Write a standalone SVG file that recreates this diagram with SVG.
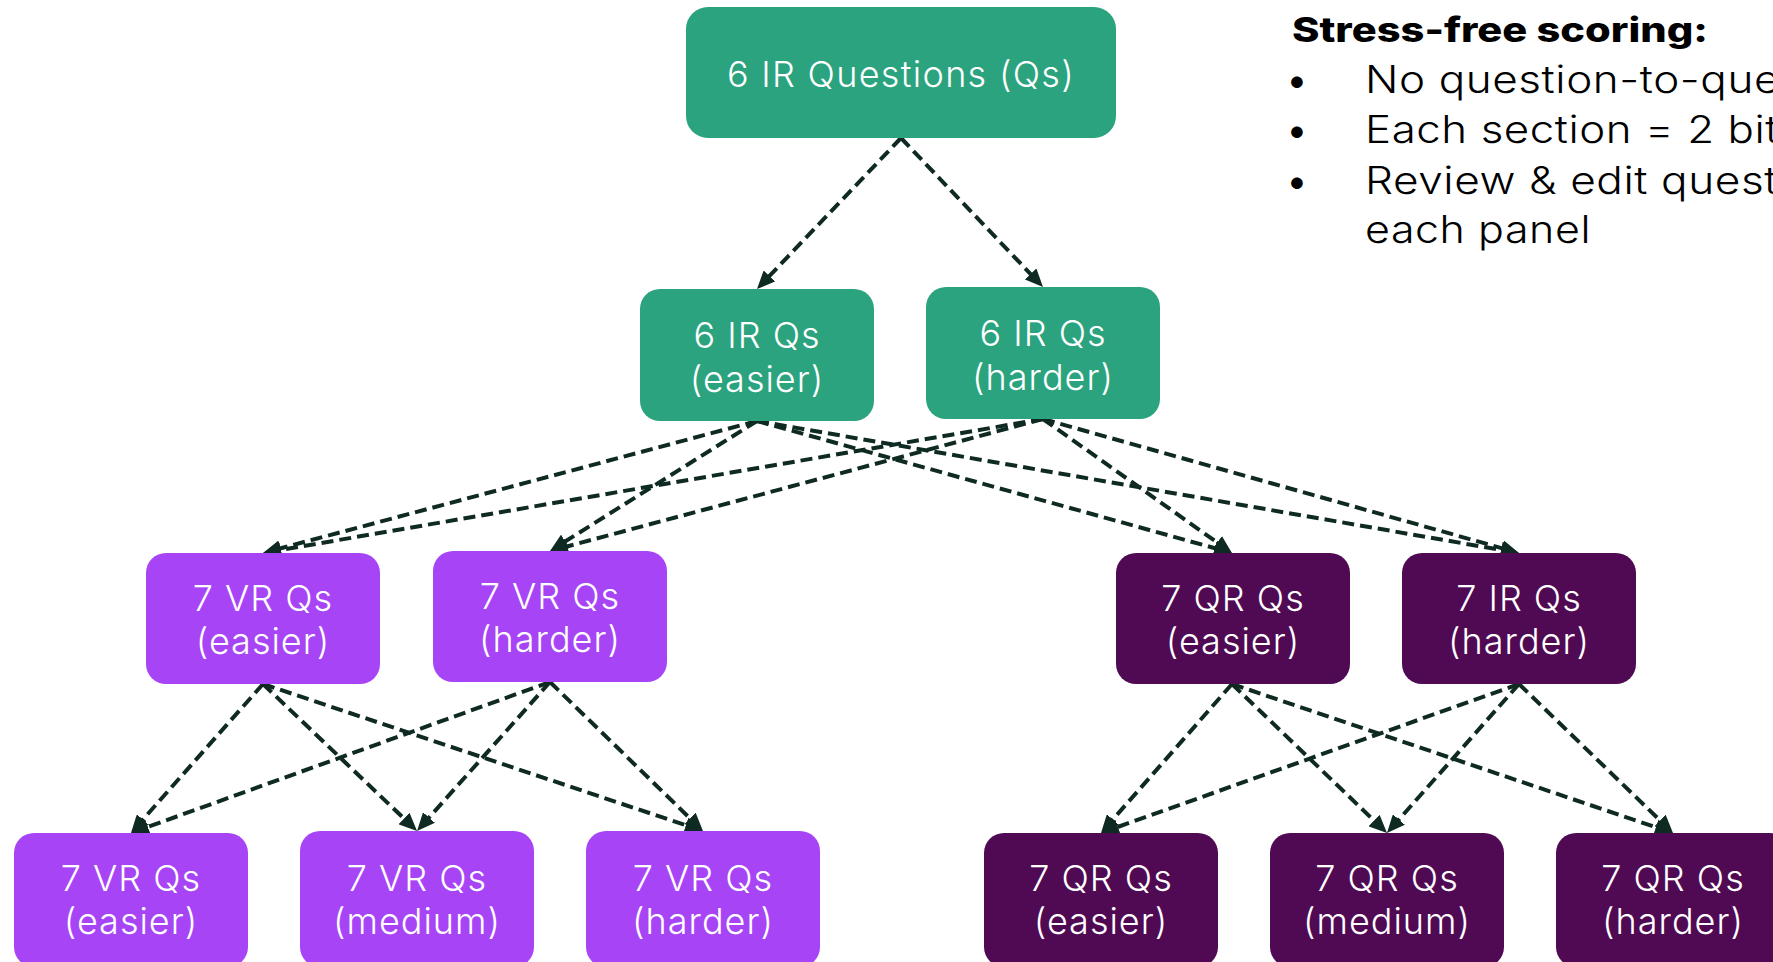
<svg xmlns="http://www.w3.org/2000/svg" width="1773" height="962" viewBox="0 0 1773 962">
  <defs>
    <style>
      .g { fill: #2AA37E; }
      .lp { fill: #A745F6; }
      .dp { fill: #500A54; }
      .nt { font-family: Inter, "Open Sans", "Liberation Sans", sans-serif; font-size: 36px; font-weight: 300; letter-spacing: 1px; fill: #FFFFFF; text-anchor: middle; }
      .conn { fill: none; stroke: #0E2A22; stroke-width: 4; stroke-dasharray: 12 6; marker-end: url(#arr); }
      .title { font-family: Inter, "Liberation Sans", sans-serif; font-size: 34px; font-weight: 800; fill: #000000; }
      .bt { font-family: Inter, "Liberation Sans", sans-serif; font-size: 38px; font-weight: 300; letter-spacing: 0.5px; fill: #000000; }
      .bul { font-family: Inter, "Liberation Sans", sans-serif; font-size: 37px; font-weight: 400; fill: #000000; text-anchor: middle; }
    </style>
    <marker id="arr" markerUnits="userSpaceOnUse" markerWidth="18" markerHeight="16" refX="8" refY="8" orient="auto">
      <path d="M0,0 L18,8 L0,16 z" fill="#0E2A22"/>
    </marker>
  </defs>
  <rect width="1773" height="962" fill="#FFFFFF"/>

  <g id="connectors">
    <line class="conn" x1="901" y1="138" x2="763.9" y2="281.8"/>
    <line class="conn" x1="901" y1="138" x2="1036.1" y2="279.8"/>
    <line class="conn" x1="757" y1="421" x2="272.7" y2="550.4"/>
    <line class="conn" x1="757" y1="421" x2="558.5" y2="545.7"/>
    <line class="conn" x1="757" y1="421" x2="1222.4" y2="550.3"/>
    <line class="conn" x1="757" y1="421" x2="1509.1" y2="551.3"/>
    <line class="conn" x1="1043" y1="419" x2="272.9" y2="551.3"/>
    <line class="conn" x1="1043" y1="419" x2="559.7" y2="548.4"/>
    <line class="conn" x1="1043" y1="419" x2="1223.8" y2="547.2"/>
    <line class="conn" x1="1043" y1="419" x2="1509.4" y2="550.3"/>
    <line class="conn" x1="263" y1="684" x2="137.6" y2="825.5"/>
    <line class="conn" x1="263" y1="684" x2="409.8" y2="824.1"/>
    <line class="conn" x1="263" y1="684" x2="693.5" y2="827.8"/>
    <line class="conn" x1="550" y1="682" x2="140.4" y2="829.6"/>
    <line class="conn" x1="550" y1="682" x2="423.7" y2="823.5"/>
    <line class="conn" x1="550" y1="682" x2="695.8" y2="824.0"/>
    <line class="conn" x1="1232" y1="684" x2="1107.6" y2="825.5"/>
    <line class="conn" x1="1232" y1="684" x2="1379.8" y2="826.1"/>
    <line class="conn" x1="1232" y1="684" x2="1663.5" y2="829.8"/>
    <line class="conn" x1="1519" y1="684" x2="1110.4" y2="829.6"/>
    <line class="conn" x1="1519" y1="684" x2="1393.6" y2="825.5"/>
    <line class="conn" x1="1519" y1="684" x2="1665.8" y2="826.0"/>
  </g>

  <g id="n-top">
    <rect class="g" x="686" y="7" width="430" height="131" rx="22"/>
    <text class="nt" x="901" y="87" style="letter-spacing:1.3px">6 IR Questions (Qs)</text>
  </g>
  <g id="n-ir-easier">
    <rect class="g" x="640" y="289" width="234" height="132" rx="20"/>
    <text class="nt" x="757" y="348">6 IR Qs</text>
    <text class="nt" x="757" y="392">(easier)</text>
  </g>
  <g id="n-ir-harder">
    <rect class="g" x="926" y="287" width="234" height="132" rx="20"/>
    <text class="nt" x="1043" y="346">6 IR Qs</text>
    <text class="nt" x="1043" y="390">(harder)</text>
  </g>

  <g id="n-vr-easier">
    <rect class="lp" x="146" y="553" width="234" height="131" rx="20"/>
    <text class="nt" x="263" y="611">7 VR Qs</text>
    <text class="nt" x="263" y="654">(easier)</text>
  </g>
  <g id="n-vr-harder">
    <rect class="lp" x="433" y="551" width="234" height="131" rx="20"/>
    <text class="nt" x="550" y="609">7 VR Qs</text>
    <text class="nt" x="550" y="652">(harder)</text>
  </g>
  <g id="n-qr-easier">
    <rect class="dp" x="1116" y="553" width="234" height="131" rx="20"/>
    <text class="nt" x="1233" y="611">7 QR Qs</text>
    <text class="nt" x="1233" y="654">(easier)</text>
  </g>
  <g id="n-ir-harder2">
    <rect class="dp" x="1402" y="553" width="234" height="131" rx="20"/>
    <text class="nt" x="1519" y="611">7 IR Qs</text>
    <text class="nt" x="1519" y="654">(harder)</text>
  </g>

  <g id="n-vr4-easier">
    <rect class="lp" x="14" y="833" width="234" height="134" rx="20"/>
    <text class="nt" x="131" y="891">7 VR Qs</text>
    <text class="nt" x="131" y="934">(easier)</text>
  </g>
  <g id="n-vr4-medium">
    <rect class="lp" x="300" y="831" width="234" height="136" rx="20"/>
    <text class="nt" x="417" y="891">7 VR Qs</text>
    <text class="nt" x="417" y="934">(medium)</text>
  </g>
  <g id="n-vr4-harder">
    <rect class="lp" x="586" y="831" width="234" height="136" rx="20"/>
    <text class="nt" x="703" y="891">7 VR Qs</text>
    <text class="nt" x="703" y="934">(harder)</text>
  </g>
  <g id="n-qr4-easier">
    <rect class="dp" x="984" y="833" width="234" height="134" rx="20"/>
    <text class="nt" x="1101" y="891">7 QR Qs</text>
    <text class="nt" x="1101" y="934">(easier)</text>
  </g>
  <g id="n-qr4-medium">
    <rect class="dp" x="1270" y="833" width="234" height="134" rx="20"/>
    <text class="nt" x="1387" y="891">7 QR Qs</text>
    <text class="nt" x="1387" y="934">(medium)</text>
  </g>
  <g id="n-qr4-harder">
    <rect class="dp" x="1556" y="833" width="234" height="134" rx="20"/>
    <text class="nt" x="1673" y="891">7 QR Qs</text>
    <text class="nt" x="1673" y="934">(harder)</text>
  </g>

  <g id="scoring-note">
    <text class="title" x="1292" y="42" textLength="416" lengthAdjust="spacingAndGlyphs">Stress-free scoring:</text>
    <text class="bul" x="1297" y="93">•</text>
    <text class="bt" x="1365" y="93" textLength="415" lengthAdjust="spacingAndGlyphs">No question-to-que</text>
    <text class="bul" x="1297" y="143">•</text>
    <text class="bt" x="1365" y="143" textLength="414" lengthAdjust="spacingAndGlyphs">Each section = 2 bit</text>
    <text class="bul" x="1297" y="194">•</text>
    <text class="bt" x="1365" y="194" textLength="413" lengthAdjust="spacingAndGlyphs">Review &amp; edit quest</text>
    <text class="bt" x="1365" y="243" textLength="226" lengthAdjust="spacingAndGlyphs">each panel</text>
  </g>
</svg>
